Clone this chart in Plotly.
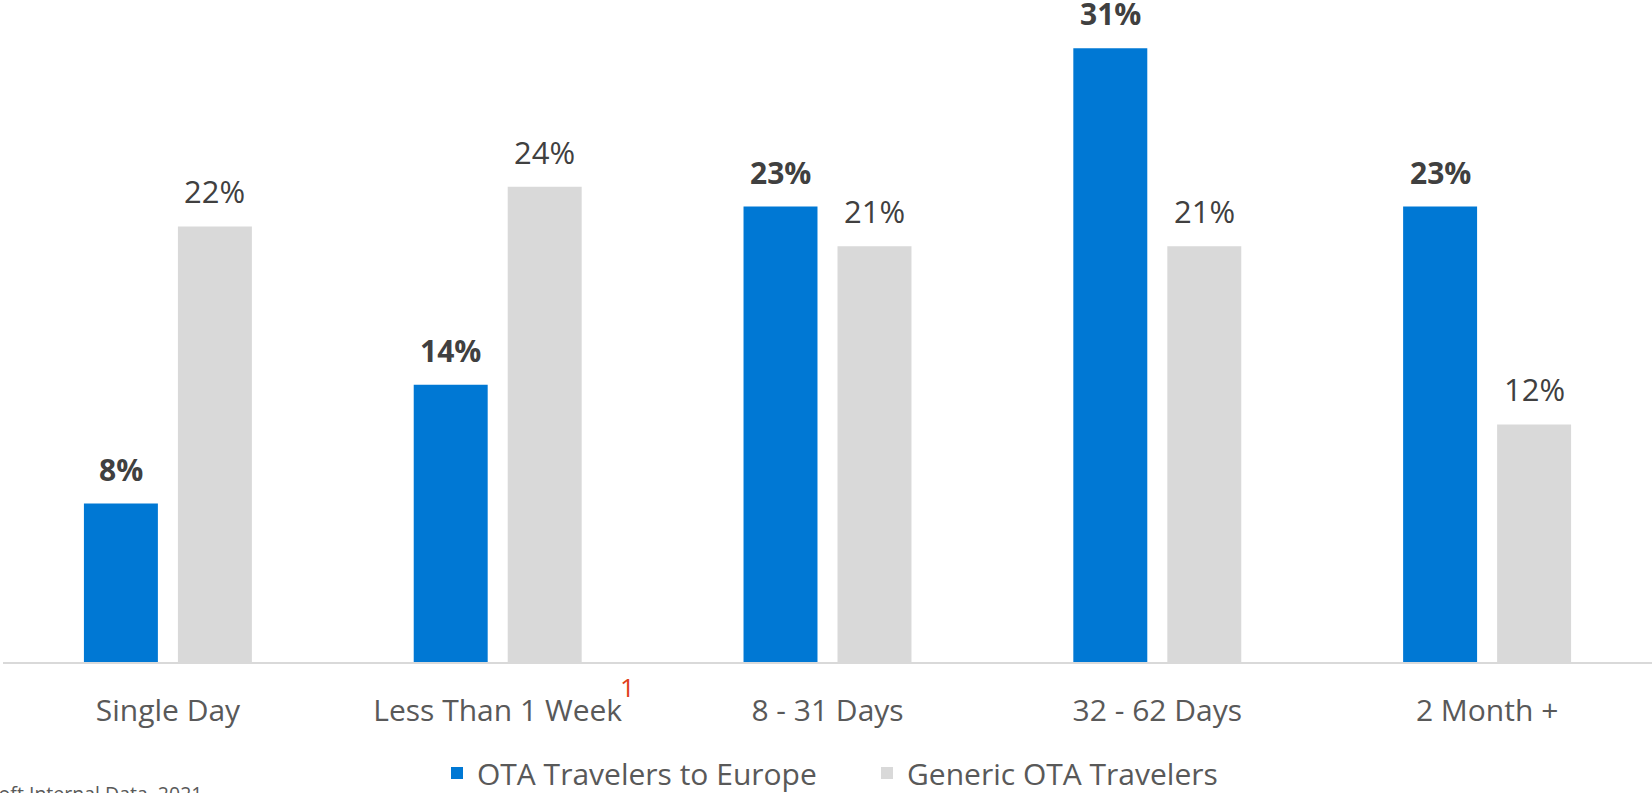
import plotly.graph_objects as go

categories = ["Single Day", "Less Than 1 Week", "8 - 31 Days", "32 - 62 Days", "2 Month +"]
europe = [8, 14, 23, 31, 23]
generic = [22, 24, 21, 21, 12]
series_names = ["OTA Travelers to Europe", "Generic OTA Travelers"]

FONT = "Open Sans"
BLUE = "#0078D4"
GRAY = "#D9D9D9"
fig = go.Figure()
fig.add_trace(go.Bar(x=categories, y=europe, name=series_names[0],
                     marker=dict(color=BLUE, line=dict(width=0))))
fig.add_trace(go.Bar(x=categories, y=generic, name=series_names[1],
                     marker=dict(color=GRAY, line=dict(width=0))))

# data labels above each bar
for cat, v in zip(categories, europe):
    fig.add_annotation(x=cat, y=v, xref="x", yref="y", text=f"<b>{v}%</b>", showarrow=False,
                       xanchor="center", yanchor="bottom", xshift=-47, yshift=12,
                       font=dict(family=FONT, size=30, color="#404040"))
for cat, v in zip(categories, generic):
    fig.add_annotation(x=cat, y=v, xref="x", yref="y", text=f"{v}%", showarrow=False,
                       xanchor="center", yanchor="bottom", xshift=47, yshift=12,
                       font=dict(family=FONT, size=31, color="#404040"))

fig.add_annotation(
    x=categories[1], y=0, xref="x", yref="y", text="1", showarrow=False,
    xanchor="left", yanchor="top", xshift=120, yshift=-5,
    font=dict(family=FONT, size=26, color="#E0401A"),
)
fig.add_annotation(
    x=(204 - 3) / 1649, y=(662 - 778) / 662, xref="paper", yref="paper",
    text="Source: Microsoft Internal Data, 2021", showarrow=False,
    xanchor="right", yanchor="top", font=dict(family=FONT, size=19.5, color="#595959"),
)

fig.update_layout(
    width=1652, height=793,
    margin=dict(l=3, r=0, t=0, b=131),
    paper_bgcolor="white", plot_bgcolor="white",
    barmode="group", bargap=0.43, bargroupgap=0.213,
    showlegend=True,
    legend=dict(orientation="h", xref="container", yref="container",
                x=437 / 1652, xanchor="left", y=1 - 773 / 793, yanchor="middle",
                font=dict(family=FONT, size=30, color="#595959"),
                entrywidth=385, entrywidthmode="pixels",
                traceorder="normal"),
    xaxis=dict(showline=True, linecolor="#D9D9D9", linewidth=2, ticks="",
               tickfont=dict(family=FONT, size=30, color="#595959"), ticklabelstandoff=21),
    yaxis=dict(range=[0, 662 / 19.8], visible=False, showgrid=False, zeroline=False),
    font=dict(family=FONT),
)
fig.write_html("out.html", config={"displayModeBar": False},
               post_script="document.body.style.margin='0';")
